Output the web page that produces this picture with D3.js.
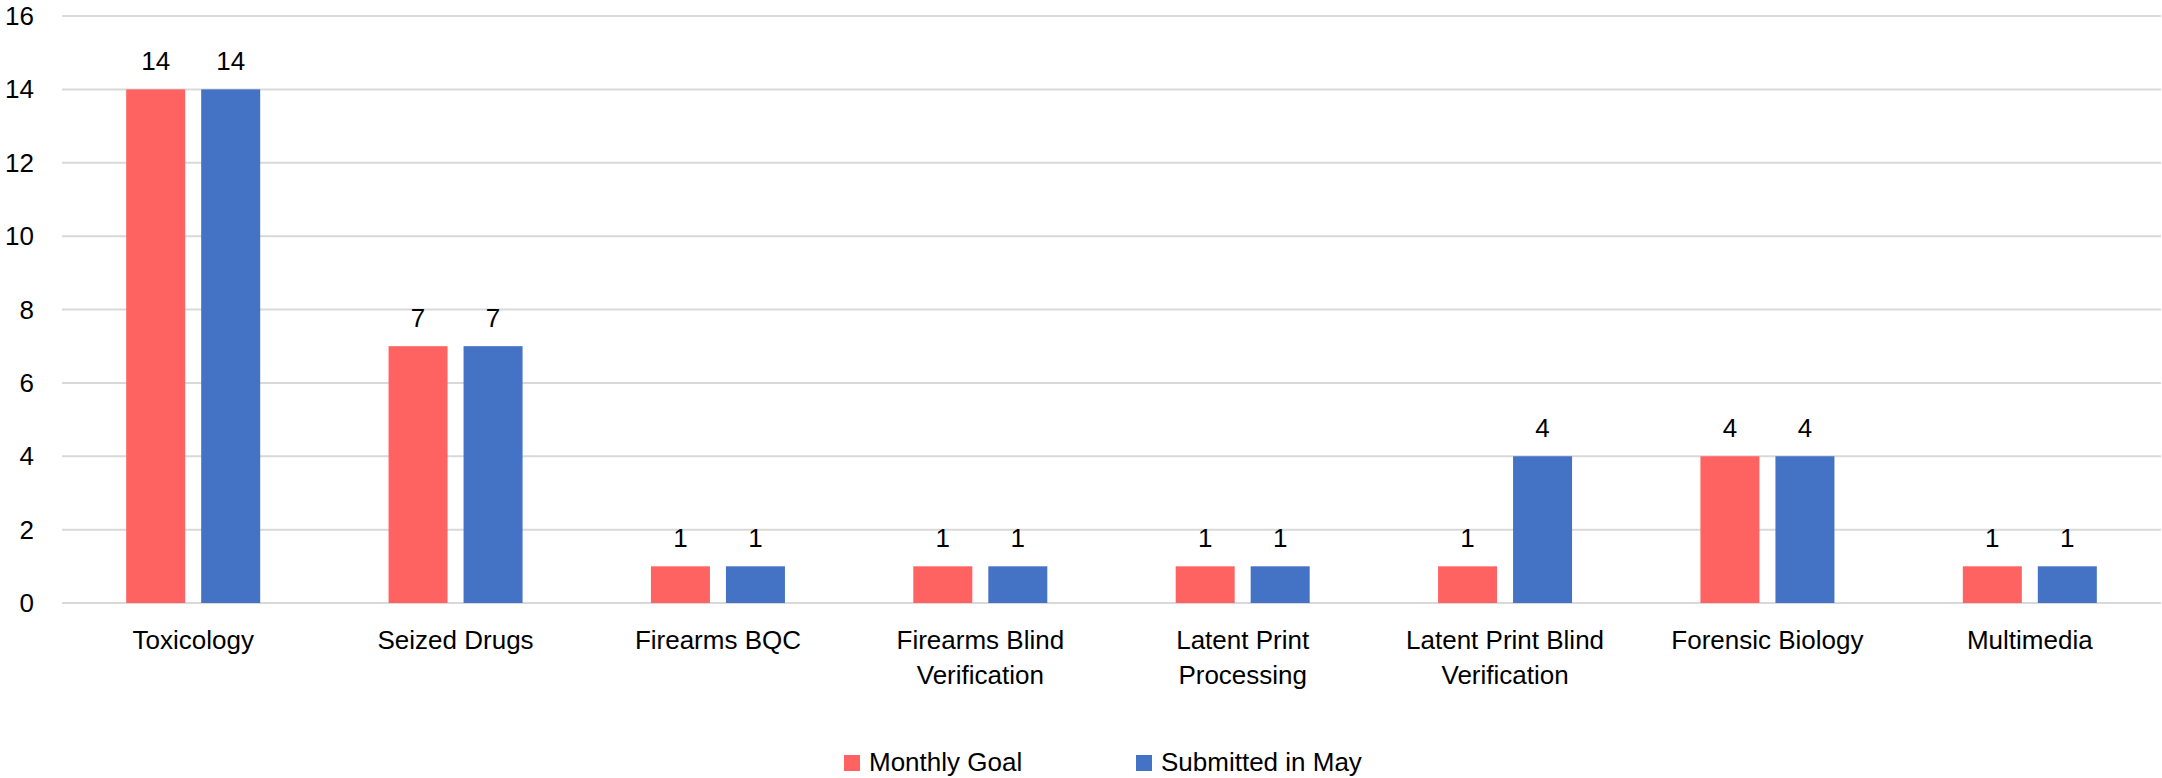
<!DOCTYPE html>
<html><head><meta charset="utf-8">
<script src="https://cdn.jsdelivr.net/npm/d3@7"></script>
<style>body{margin:0;background:#fff;}svg{display:block;font-family:"Liberation Sans",Arial,sans-serif;}</style>
</head><body><svg id="c" width="2162" height="778"></svg>
<script>
const categories = [["Toxicology"],["Seized Drugs"],["Firearms BQC"],["Firearms Blind","Verification"],["Latent Print","Processing"],["Latent Print Blind","Verification"],["Forensic Biology"],["Multimedia"]];
const seriesNames = ["Monthly Goal","Submitted in May"];
const monthlyGoal = [14,7,1,1,1,1,4,1];
const submittedInMay = [14,7,1,1,1,4,4,1];
const yTicks = [0,2,4,6,8,10,12,14,16];
const colors = ["#ff6361","#4472c4"];

(function(){
const svg = d3.select("#c");
const pL = 62, pR = 2161, pT = 16, pB = 603;
const fs = 26;
const x = d3.scaleBand().domain(d3.range(categories.length)).range([pL,pR]);
const y = d3.scaleLinear().domain([0,16]).range([pB,pT]);
const barW = 59, gap = 16;
const xs = d3.scaleOrdinal().domain([0,1]).range([-(gap/2+barW), gap/2]);

svg.append("g").selectAll("line").data(yTicks).join("line")
  .attr("x1",pL).attr("x2",pR).attr("y1",d=>y(d)).attr("y2",d=>y(d))
  .attr("stroke","#d9d9d9").attr("stroke-width",2);

svg.append("g").selectAll("text").data(yTicks).join("text")
  .attr("x",34).attr("y",d=>y(d)+9).attr("text-anchor","end")
  .attr("font-size",fs).attr("fill","#000").text(d=>d);

const series = [monthlyGoal, submittedInMay];
series.forEach((vals,si)=>{
  const g = svg.append("g");
  g.selectAll("rect").data(vals).join("rect")
    .attr("x",(d,i)=>x(i)+x.bandwidth()/2+xs(si))
    .attr("y",d=>y(d)).attr("width",barW).attr("height",d=>y(0)-y(d))
    .attr("fill",colors[si]);
  g.selectAll("text").data(vals).join("text")
    .attr("x",(d,i)=>x(i)+x.bandwidth()/2+xs(si)+barW/2)
    .attr("y",d=>y(d)-19).attr("text-anchor","middle")
    .attr("font-size",fs).attr("fill","#000").text(d=>d);
});

const cg = svg.append("g").selectAll("text").data(categories).join("text")
  .attr("x",(d,i)=>x(i)+x.bandwidth()/2).attr("y",649)
  .attr("text-anchor","middle").attr("font-size",fs).attr("fill","#000");
cg.selectAll("tspan").data(d=>d).join("tspan")
  .attr("x",function(){return this.parentNode.getAttribute("x");})
  .attr("dy",(d,i)=>i?35:0).text(d=>d);

const lg = svg.append("g");
const legX = [844,1136];
seriesNames.forEach((n,i)=>{
  lg.append("rect").attr("x",legX[i]).attr("y",755).attr("width",16).attr("height",16).attr("fill",colors[i]);
  lg.append("text").attr("x",legX[i]+25).attr("y",771).attr("font-size",fs).attr("fill","#000").text(n);
});
})();
</script></body></html>
